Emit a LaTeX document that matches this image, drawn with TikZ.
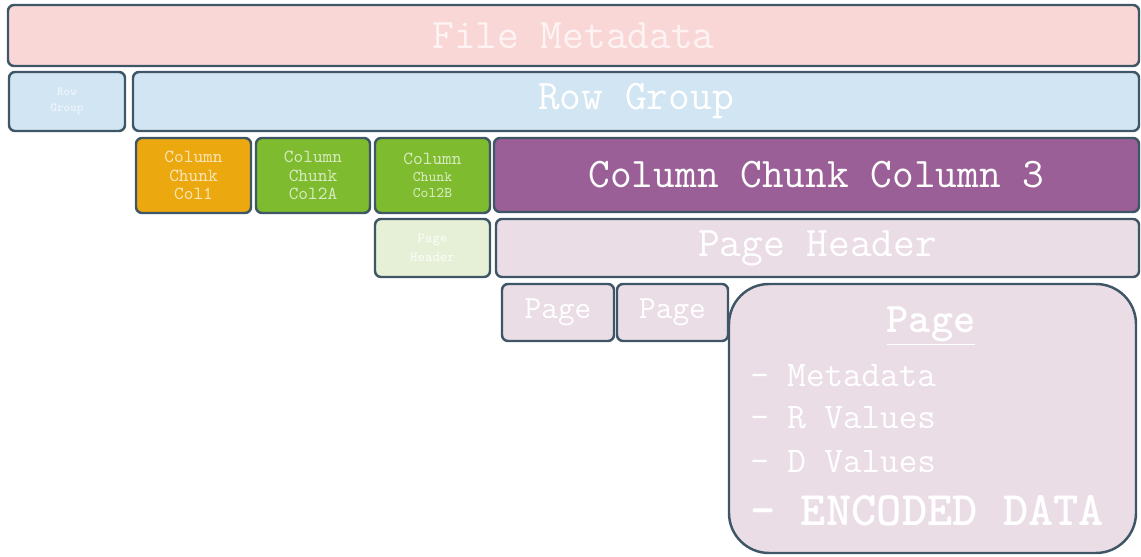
\documentclass[tikz,border=0pt]{standalone}
\usepackage{fontspec}
\renewcommand{\familydefault}{\ttdefault}
\definecolor{edge}{HTML}{3F5666}
\definecolor{metapink}{HTML}{F9D7D6}
\definecolor{rowblue}{HTML}{D2E5F3}
\definecolor{chunkorange}{HTML}{EBA90F}
\definecolor{chunkgreen}{HTML}{7EBB2E}
\definecolor{chunkpurple}{HTML}{9B5F97}
\definecolor{headgreen}{HTML}{E6F0D6}
\definecolor{pagelilac}{HTML}{EADDE6}
\newcommand{\fsz}[1]{\fontsize{#1}{#1}\selectfont}
\begin{document}
\begin{tikzpicture}[
    blk/.style={draw=edge, line width=1.4pt, rounded corners=0.12cm, inner sep=0pt, align=center, text=white},
    faint/.style={text opacity=0.7},
    item/.style={anchor=west, text=white, inner sep=0pt}]
                    \useasboundingbox (0,0) rectangle (22.82,11.14);
                    % top level
                    \node (filemeta) at (11.47,10.43) [blk,fill=metapink,faint,font=\fsz{24},minimum width=22.62cm,minimum height=1.22cm] {File Metadata};
                    \node (rowsmall) at (1.34,9.11) [blk,fill=rowblue,faint,font=\fontsize{7}{9.2}\selectfont,minimum width=2.32cm,minimum height=1.18cm] {Row\\Group};
                    \node (rowgroup) at (12.72,9.11) [blk,fill=rowblue,font=\fsz{24},minimum width=20.12cm,minimum height=1.18cm] {Row Group};
                    % column chunks
                    \node (colone) at (3.87,7.63) [blk,fill=chunkorange,faint,font=\fontsize{10.5}{10.6}\selectfont,minimum width=2.30cm,minimum height=1.50cm] {Column\\Chunk\\Col1};
                    \node (coltwoa) at (6.26,7.63) [blk,fill=chunkgreen,faint,font=\fontsize{10.5}{10.6}\selectfont,minimum width=2.28cm,minimum height=1.50cm] {Column\\Chunk\\Col2A};
                    \node (coltwob) at (8.65,7.63) [blk,fill=chunkgreen,faint,font=\fontsize{8.4}{9.3}\selectfont,minimum width=2.30cm,minimum height=1.50cm] {{\fontsize{10.5}{10}\selectfont Column}\\Chunk\\Col2B};
                    \node (colthree) at (16.33,7.64) [blk,fill=chunkpurple,font=\fsz{24},minimum width=12.90cm,minimum height=1.48cm] {Column Chunk Column 3};
                    % page headers
                    \node (headsmall) at (8.65,6.18) [blk,fill=headgreen,text opacity=0.8,font=\fontsize{8}{11}\selectfont,minimum width=2.30cm,minimum height=1.16cm] {Page\\Header};
                    \node (headbig) at (16.35,6.18) [blk,fill=pagelilac,font=\fsz{24},minimum width=12.86cm,minimum height=1.16cm] {Page Header};
                    % pages
                    \node (pageone) at (11.16,4.89) [blk,fill=pagelilac,font=\fsz{18.4},minimum width=2.24cm,minimum height=1.14cm] {Page};
                    \node (pagetwo) at (13.45,4.89) [blk,fill=pagelilac,font=\fsz{18.4},minimum width=2.22cm,minimum height=1.14cm] {Page};
                    \node (pagebig) at (18.65,2.77) [blk,fill=pagelilac,rounded corners=0.8cm,minimum width=8.14cm,minimum height=5.38cm] {};
                    \node (pagetitle) at (18.62,4.62) [text=white,inner sep=0pt,font=\fsz{24}\bfseries] {\underline{Page}};
                    \node (itemmeta) at (15.0,3.62) [item,font=\fsz{20.5}] {- Metadata};
                    \node (itemr) at (15.0,2.78) [item,font=\fsz{20.5}] {- R Values};
                    \node (itemd) at (15.0,1.90) [item,font=\fsz{20.5}] {- D Values};
                    \node (itemdata) at (15.0,0.92) [item,font=\fsz{27.4}\bfseries] {- ENCODED DATA};
\end{tikzpicture}
\end{document}
